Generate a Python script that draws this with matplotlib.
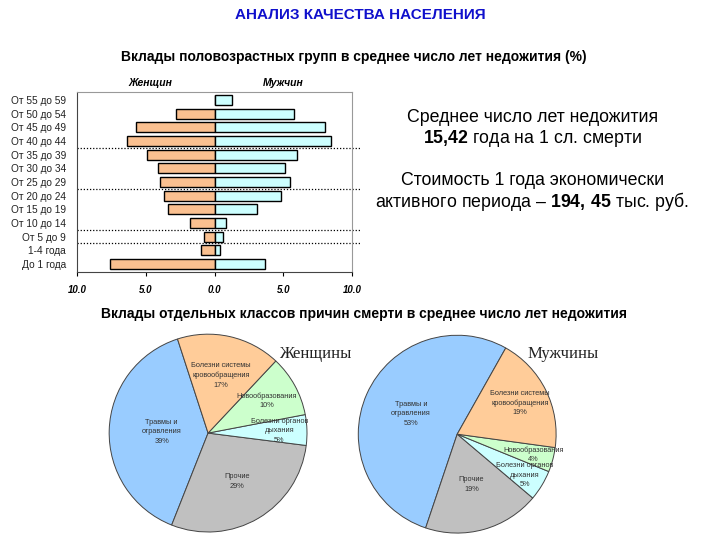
import numpy as np
import matplotlib.pyplot as plt

plt.rcParams['font.family'] = ['Liberation Sans', 'DejaVu Sans']
plt.rcParams['mathtext.fontset'] = 'custom'
plt.rcParams['mathtext.bf'] = 'Liberation Sans:bold'
plt.rcParams['mathtext.rm'] = 'Liberation Sans'

# age groups, top to bottom
ages = ["От 55 до 59", "От 50 до 54", "От 45 до 49", "От 40 до 44", "От 35 до 39",
        "От 30 до 34", "От 25 до 29", "От 20 до 24", "От 15 до 19", "От 10 до 14",
        "От 5 до 9", "1-4 года", "До 1 года"]
women = [0.0, 2.8, 5.7, 6.4, 4.9, 4.1, 4.0, 3.7, 3.4, 1.8, 0.8, 1.0, 7.6]
men = [1.3, 5.8, 8.0, 8.5, 6.0, 5.1, 5.5, 4.8, 3.1, 0.8, 0.6, 0.4, 3.7]
# dotted separators after these groups (index)
separators = [3, 6, 9, 10]
xticks = [-10, -5, 0, 5, 10]

causes = ["Травмы и\nотравления", "Прочие", "Болезни органов\nдыхания",
          "Новообразования", "Болезни системы\nкровообращения"]
women_pct = [39, 29, 5, 10, 17]
men_pct = [53, 19, 5, 4, 19]
cause_colors = ["#99CCFF", "#C0C0C0", "#CCFFFF", "#CCFFCC", "#FFCC99"]

fig = plt.figure(figsize=(7.2, 5.4), dpi=100)

fig.text(0.5, 0.972, "АНАЛИЗ КАЧЕСТВА НАСЕЛЕНИЯ", ha='center', va='center',
         fontsize=11, fontweight='bold', color='#1010CC')
fig.text(0.492, 0.894, "Вклады половозрастных групп в среднее число лет недожития (%)",
         ha='center', va='center', fontsize=10, fontweight='bold')
fig.text(0.505, 0.418, "Вклады отдельных классов причин смерти в среднее число лет недожития",
         ha='center', va='center', fontsize=10, fontweight='bold')

# --- pyramid ---
ax = fig.add_axes([0.107, 0.496, 0.382, 0.334])
y = np.arange(len(ages))
ax.barh(y, [-w for w in women], height=0.72, color='#FAC090', edgecolor='black', linewidth=1.0)
ax.barh(y, men, height=0.72, color='#CCFFFF', edgecolor='black', linewidth=1.0)
ax.set_ylim(len(ages) - 0.4, -0.6)
ax.set_xlim(-10, 10)
ax.set_yticks(y)
ax.set_yticklabels(ages, fontsize=7.3, color='#222222')
ax.tick_params(axis='y', length=0, pad=8)
ax.set_xticks(xticks)
ax.set_xticklabels(["%.1f" % abs(v) for v in xticks], fontsize=7, fontweight='bold',
                   fontstyle='italic')
ax.tick_params(axis='x', length=3, pad=6)
for s in ['top', 'right']:
    ax.spines[s].set_color('#999999')
for s in ['left', 'bottom']:
    ax.spines[s].set_color('#444444')
for i in separators:
    ax.plot([-10, 10.6], [i + 0.5, i + 0.5], ls=(0, (1, 1.5)), color='black', lw=0.9,
            clip_on=False)
ax.text(-4.7, -0.85, "Женщин", ha='center', va='bottom', fontsize=7.5, fontweight='bold',
        fontstyle='italic')
ax.text(5.0, -0.85, "Мужчин", ha='center', va='bottom', fontsize=7.5, fontweight='bold',
        fontstyle='italic')

# --- right text block ---
fig.text(0.739, 0.783, "Среднее число лет недожития", ha='center', va='center', fontsize=12.8)
fig.text(0.739, 0.743, r"$\bf{15{,}42}$ года на 1 сл. смерти", ha='center', va='center',
         fontsize=12.8)
fig.text(0.739, 0.666, "Стоимость 1 года экономически", ha='center', va='center', fontsize=12.8)
fig.text(0.739, 0.626, r"активного периода – $\bf{194{,}\ 45}$ тыс. руб.", ha='center',
         va='center', fontsize=12.8)


def draw_pie(rect, vals, start, radii, title, title_xy):
    pax = fig.add_axes(rect)
    wedges, _ = pax.pie(vals, colors=cause_colors, startangle=start, counterclock=True,
                        wedgeprops=dict(edgecolor='#444444', linewidth=0.7))
    total = float(sum(vals))
    a0 = start
    for v, lab, r in zip(vals, causes, radii):
        a1 = a0 + 360 * v / total
        mid = np.deg2rad((a0 + a1) / 2)
        pax.text(r * np.cos(mid), r * np.sin(mid), "%s\n%d%%" % (lab, v), ha='center',
                 va='center', fontsize=5.3, color='#333333', linespacing=1.5)
        a0 = a1
    pax.set_xlim(-1.01, 1.01)
    pax.set_ylim(-1.01, 1.01)
    fig.text(title_xy[0], title_xy[1], title, ha='center', va='center', fontsize=12,
             family='Liberation Serif', color='#222222')


draw_pie([0.15, 0.013, 0.278, 0.37], women_pct, 108, [0.47, 0.57, 0.72, 0.68, 0.6],
         "Женщины", (0.438, 0.345))
draw_pie([0.496, 0.011, 0.278, 0.37], men_pct, 60.6, [0.51, 0.53, 0.8, 0.8, 0.71],
         "Мужчины", (0.782, 0.345))

fig.savefig("out.png", dpi=100)
